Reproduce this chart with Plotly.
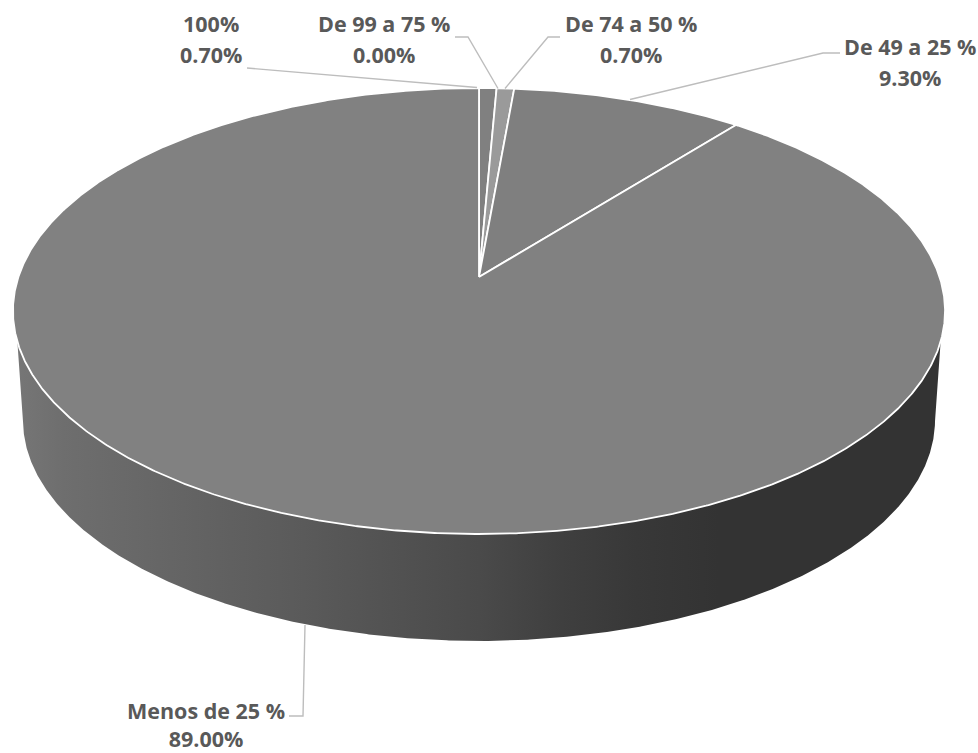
import numpy as np
import plotly.graph_objects as go

# Coverage bands and their shares (percent)
categories = ["100%", "De 99 a 75 %", "De 74 a 50 %", "De 49 a 25 %", "Menos de 25 %"]
shares = [0.70, 0.00, 0.70, 9.30, 89.00]
share_labels = ["0.70%", "0.00%", "0.70%", "9.30%", "89.00%"]
slice_colors = ["#808080", "#808080", "#9a9a9a", "#7f7f7f", "#818181"]

# Perspective disc: screen position of a rim point at angle theta (clockwise from the back)
TILT = -0.1525
TOP_DISC = dict(cx=479.0, cy=277.0, kx=460.6, ky=217.8)
BASE_DISC = dict(cx=479.0, cy=386.3, kx=450.7, ky=215.8)


def project(theta, disc, radius=1.0):
    px = radius * np.sin(theta)
    py = -radius * np.cos(theta)
    w = 1 + TILT * py
    return disc["cx"] + disc["kx"] * px / w, disc["cy"] + disc["ky"] * py / w


fig = go.Figure()

# Side wall: front part of the top rim joined to the front part of the base rim
t = np.linspace(0, 2 * np.pi, 1441)
tx, ty = project(t, TOP_DISC)
bx, by = project(t, BASE_DISC)
keep_top = ty >= 341
keep_base = by >= 420
wall_x = np.concatenate([tx[keep_top], bx[keep_base][::-1]])
wall_y = np.concatenate([ty[keep_top], by[keep_base][::-1]])
fig.add_trace(go.Scatter(
    x=wall_x, y=wall_y, mode="lines", line=dict(width=0),
    fill="toself",
    fillgradient=dict(
        type="horizontal",
        colorscale=[[0.0, "#767676"], [0.05, "#6e6e6e"], [0.31, "#5a5a5a"], [0.5, "#4a4a4a"],
                    [0.59, "#3f3f3f"], [0.67, "#383838"], [0.76, "#333333"], [1.0, "#333333"]],
    ),
    hoverinfo="skip", showlegend=False,
))

# Top face: one wedge per band, starting from the back of the disc
cumulative = np.concatenate([[0], np.cumsum(shares)]) / sum(shares) * 2 * np.pi
for start, end, color, name in zip(cumulative[:-1], cumulative[1:], slice_colors, categories):
    if end <= start:
        continue
    arc = np.linspace(start, end, max(3, int((end - start) * 200)))
    ax, ay = project(arc, TOP_DISC)
    fig.add_trace(go.Scatter(
        x=np.concatenate([[TOP_DISC["cx"]], ax, [TOP_DISC["cx"]]]),
        y=np.concatenate([[TOP_DISC["cy"]], ay, [TOP_DISC["cy"]]]),
        mode="lines", line=dict(color="#ffffff", width=1.8),
        fill="toself", fillcolor=color, name=name, showlegend=False,
    ))

# Leader lines from each label to its slice
leaders = [
    ([247, 477], [68, 87.5]),
    ([455, 468, 498], [37, 37, 88.5]),
    ([560, 548, 505], [37, 37, 88.5]),
    ([630, 823, 840], [99.5, 53, 53]),
    ([305, 303, 289], [625, 716, 716]),
]
for lx, ly in leaders:
    fig.add_trace(go.Scatter(
        x=lx, y=ly, mode="lines", line=dict(color="#bdbdbd", width=1.4),
        hoverinfo="skip", showlegend=False,
    ))

# Two-line labels: band name above its share. The bottom label sits against the
# page edge, so its two lines share a single box with normal line spacing.
label_font = dict(family="Open Sans", size=21.5, color="#595959", weight=700)
label_anchor = [(211, 23), (384, 23), (631, 23), (910, 46)]
LINE_GAP = 31
for (ax_, ay_), name, value in zip(label_anchor, categories, share_labels):
    for offset, text in ((0, name), (LINE_GAP, value)):
        fig.add_annotation(
            x=ax_, y=ay_ + offset, text=text, showarrow=False,
            xanchor="center", yanchor="middle", font=label_font,
        )
fig.add_annotation(
    x=206, y=724, text=f"{categories[-1]}<br>{share_labels[-1]}", showarrow=False,
    xanchor="center", yanchor="middle", font=label_font,
)

fig.update_layout(
    width=978, height=753, margin=dict(l=0, r=0, t=0, b=0),
    paper_bgcolor="#ffffff", plot_bgcolor="#ffffff",
    xaxis=dict(range=[0, 978], visible=False, fixedrange=True),
    yaxis=dict(range=[753, 0], visible=False, fixedrange=True),
    showlegend=False,
)
fig.write_html("out.html", config=dict(displayModeBar=False))
